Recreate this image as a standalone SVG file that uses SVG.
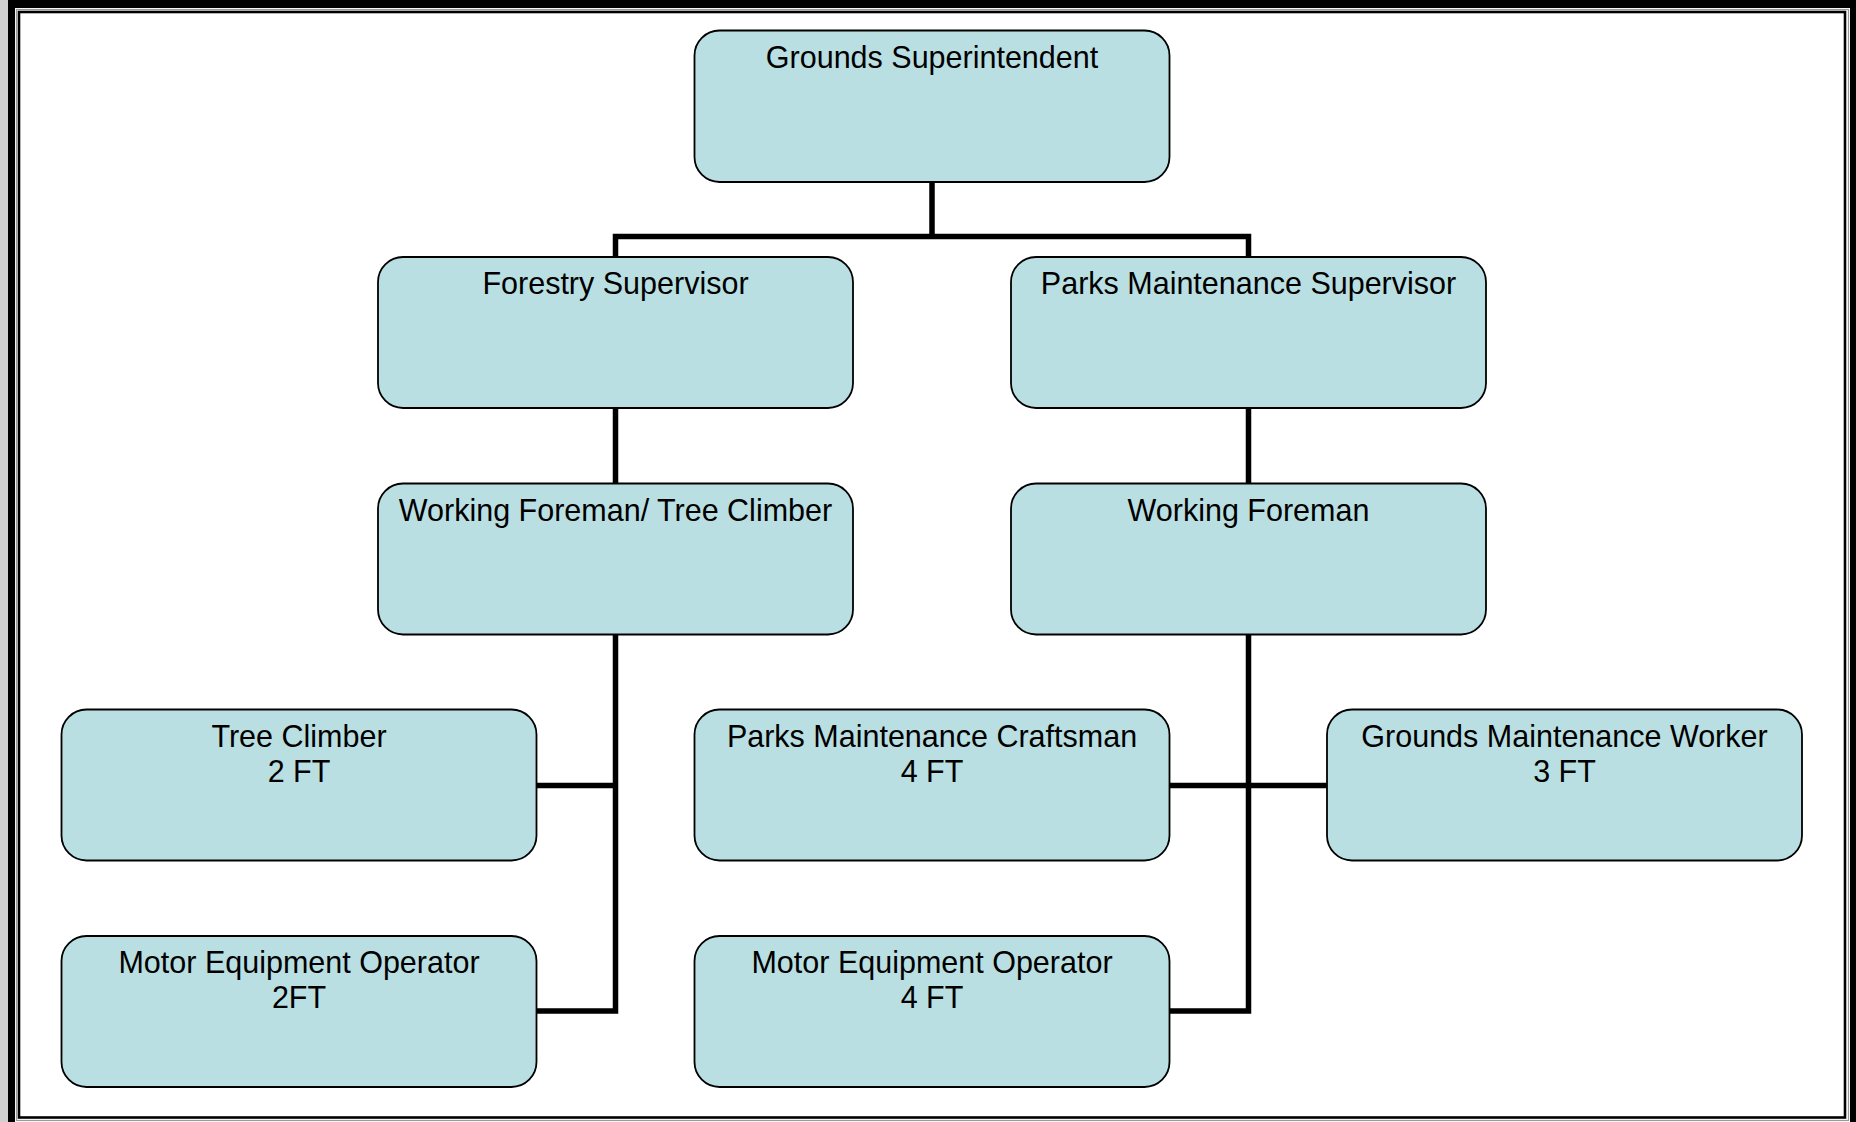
<svg xmlns="http://www.w3.org/2000/svg" width="1856" height="1122" viewBox="0 0 1856 1122">
<style>
.box{fill:#b9dfe2;stroke:#000;stroke-width:1.8}
.t{font-family:"Liberation Sans",Arial,sans-serif;font-size:30.5px;fill:#000;text-anchor:middle}
.c{fill:none;stroke:#000;stroke-width:5.5;stroke-linejoin:miter;stroke-linecap:butt}
</style>
<rect x="0" y="0" width="1856" height="1122" fill="#d0d0d0"/>
<rect x="8" y="-10" width="1860" height="1150" fill="#000"/>
<rect x="15" y="8" width="1835" height="1130" fill="#fff"/>
<rect x="16.5" y="9.5" width="1832" height="1111" fill="none" stroke="#9a9a9a" stroke-width="1.2"/>
<rect x="19" y="12" width="1826" height="1105.5" fill="#fff" stroke="#000" stroke-width="2.6"/>
<g id="connectors">
<path class="c" d="M932 182 V236.5 M615.5 257 V236.5 H1248.5 V257"/>
<path class="c" d="M615.5 408 V483.5 M615.5 634.5 V1011 H536 M536 785.5 H615.5"/>
<path class="c" d="M1248.5 408 V483.5 M1248.5 634.5 V1011 H1169.5 M1169.5 785.5 H1327"/>
</g>
<g id="grounds-superintendent">
<rect class="box" x="694.5" y="30.5" width="475" height="151.5" rx="25"/>
<text class="t" x="932" y="67.5">Grounds Superintendent</text>
</g>
<g id="forestry-supervisor">
<rect class="box" x="378" y="257" width="475" height="151" rx="25"/>
<text class="t" x="615.5" y="294">Forestry Supervisor</text>
</g>
<g id="parks-maintenance-supervisor">
<rect class="box" x="1011" y="257" width="475" height="151" rx="25"/>
<text class="t" x="1248.5" y="294">Parks Maintenance Supervisor</text>
</g>
<g id="working-foreman-tree-climber">
<rect class="box" x="378" y="483.5" width="475" height="151" rx="25"/>
<text class="t" x="615.5" y="520.5">Working Foreman/ Tree Climber</text>
</g>
<g id="working-foreman">
<rect class="box" x="1011" y="483.5" width="475" height="151" rx="25"/>
<text class="t" x="1248.5" y="520.5">Working Foreman</text>
</g>
<g id="tree-climber">
<rect class="box" x="61.5" y="709.5" width="475" height="151" rx="25"/>
<text class="t" x="299" y="746.5">Tree Climber</text>
<text class="t" x="299" y="781.5">2 FT</text>
</g>
<g id="parks-maintenance-craftsman">
<rect class="box" x="694.5" y="709.5" width="475" height="151" rx="25"/>
<text class="t" x="932" y="746.5">Parks Maintenance Craftsman</text>
<text class="t" x="932" y="781.5">4 FT</text>
</g>
<g id="grounds-maintenance-worker">
<rect class="box" x="1327" y="709.5" width="475" height="151" rx="25"/>
<text class="t" x="1564.5" y="746.5">Grounds Maintenance Worker</text>
<text class="t" x="1564.5" y="781.5">3 FT</text>
</g>
<g id="motor-equipment-operator-forestry">
<rect class="box" x="61.5" y="936" width="475" height="151" rx="25"/>
<text class="t" x="299" y="973">Motor Equipment Operator</text>
<text class="t" x="299" y="1008">2FT</text>
</g>
<g id="motor-equipment-operator-parks">
<rect class="box" x="694.5" y="936" width="475" height="151" rx="25"/>
<text class="t" x="932" y="973">Motor Equipment Operator</text>
<text class="t" x="932" y="1008">4 FT</text>
</g>
</svg>
